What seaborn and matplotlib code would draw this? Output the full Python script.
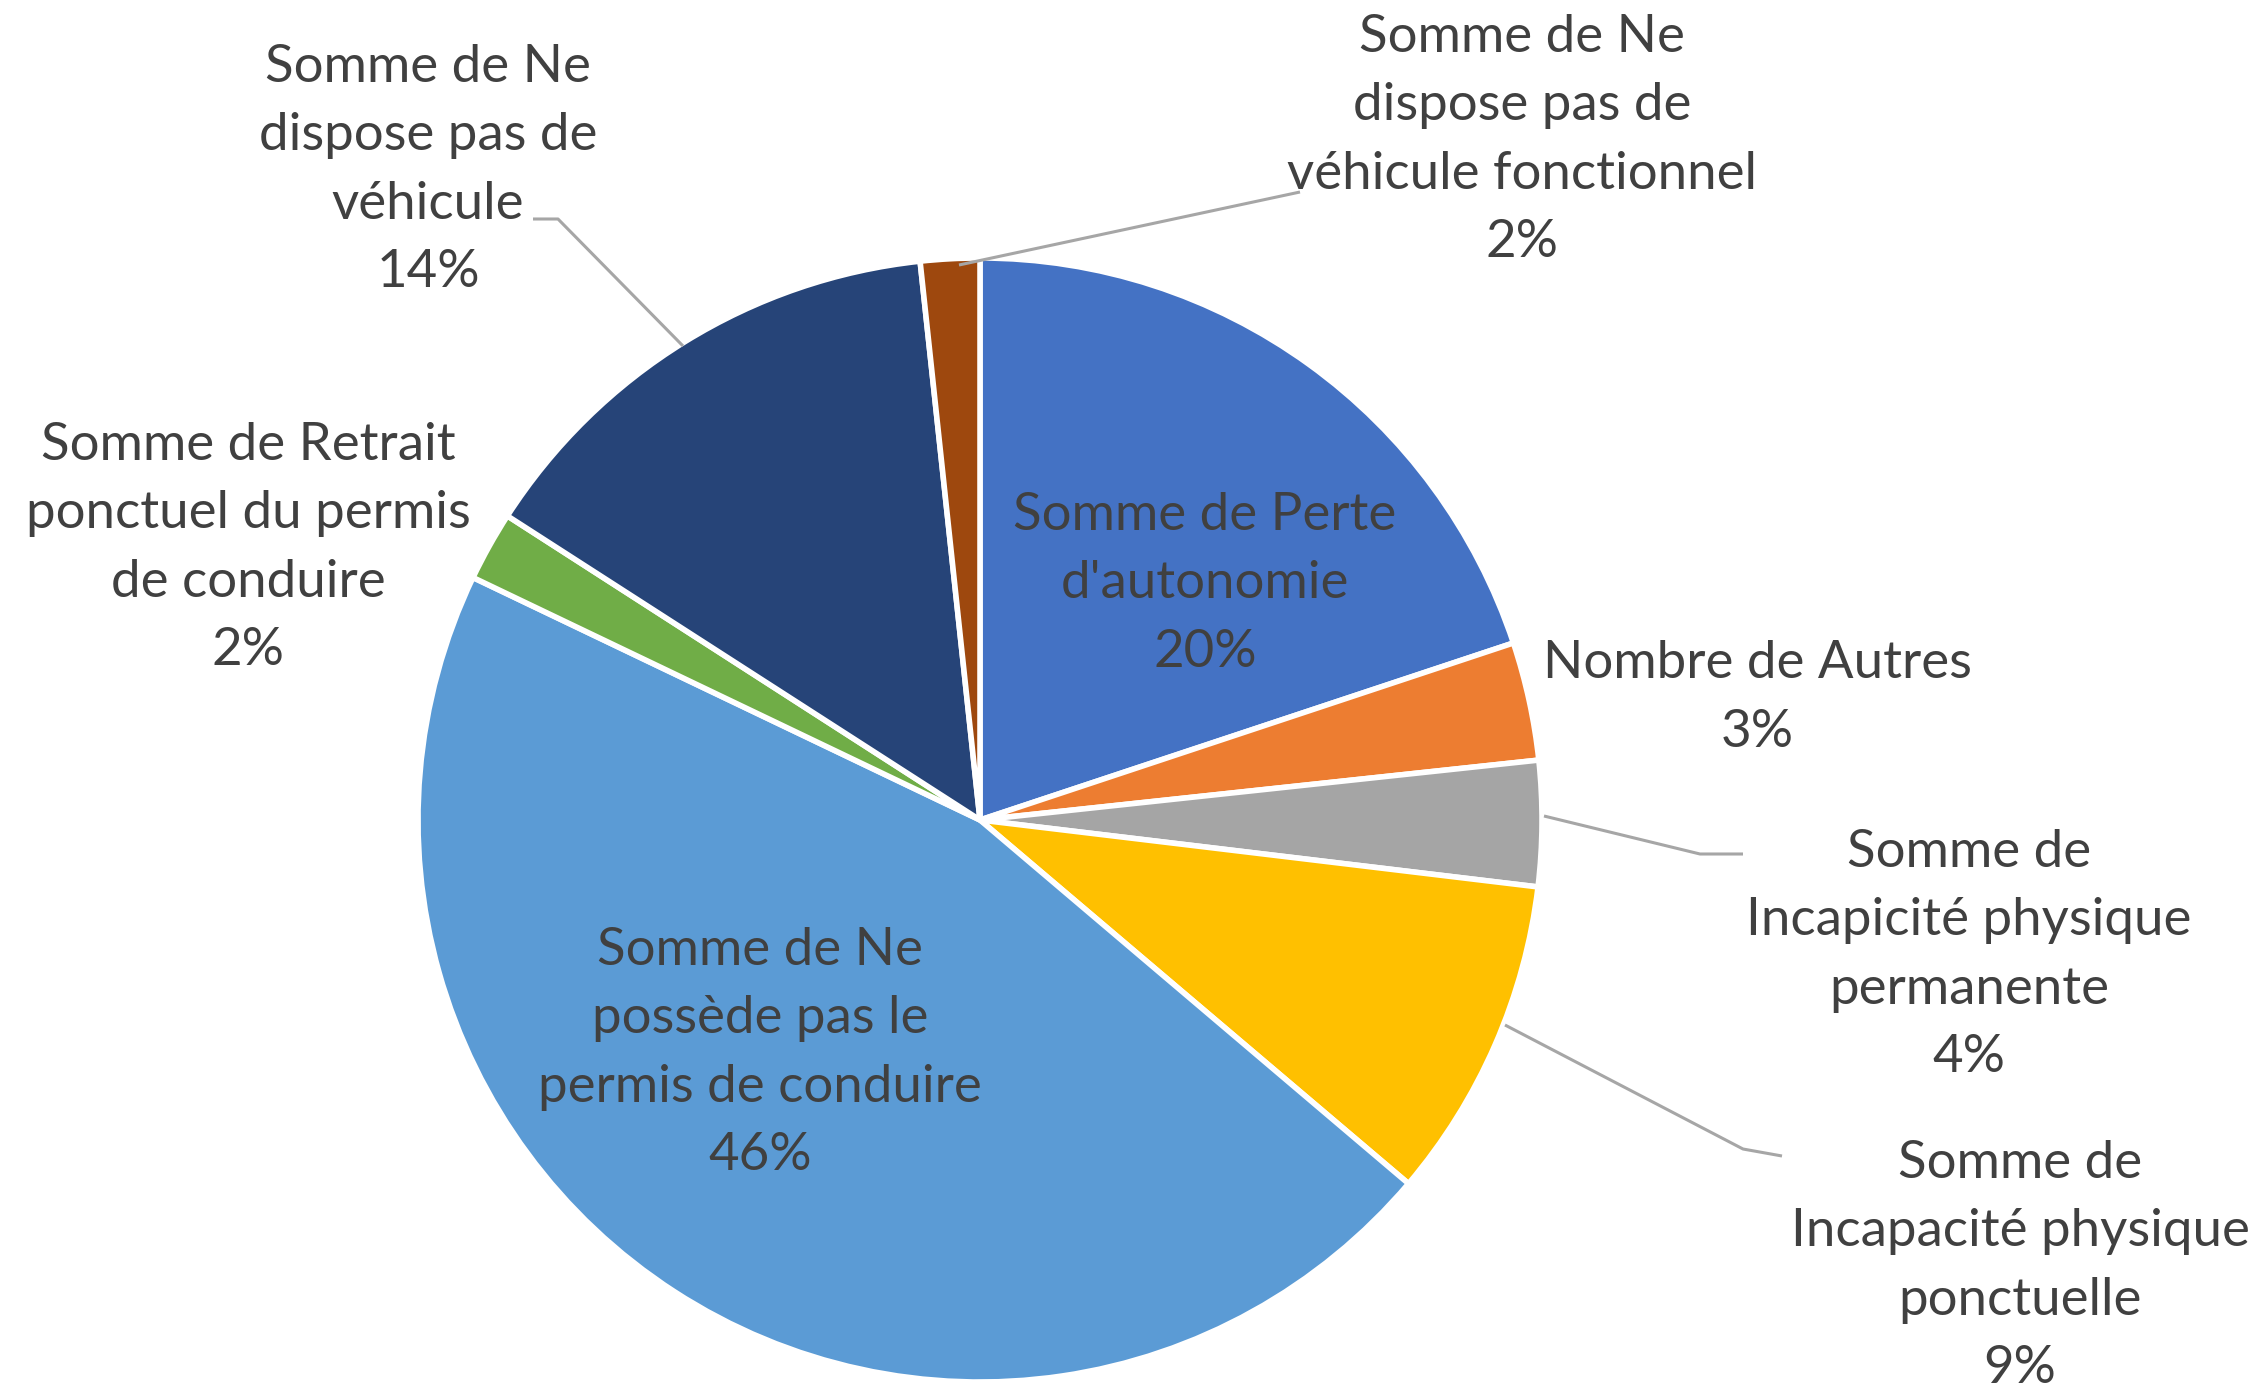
import matplotlib
matplotlib.use("Agg")
import matplotlib.pyplot as plt
import seaborn as sns

# ---- data ----
categories = [
    "Somme de Perte\nd'autonomie",
    "Nombre de Autres",
    "Somme de\nIncapicité physique\npermanente",
    "Somme de\nIncapacité physique\nponctuelle",
    "Somme de Ne\npossède pas le\npermis de conduire",
    "Somme de Retrait\nponctuel du permis\nde conduire",
    "Somme de Ne\ndispose pas de\nvéhicule",
    "Somme de Ne\ndispose pas de\nvéhicule fonctionnel",
]
values = [19.9, 3.4, 3.6, 9.3, 45.9, 2.0, 14.2, 1.7]
colors = ["#4472C4", "#ED7D31", "#A5A5A5", "#FFC000",
          "#5B9BD5", "#70AD47", "#264478", "#9E480E"]

sns.set_theme(style="white")
plt.rcParams['font.family'] = ['Lato', 'DejaVu Sans']

W, H = 2262, 1394
fig = plt.figure(figsize=(W / 100, H / 100), dpi=100)
ax = fig.add_axes([0, 0, 1, 1])

cx, cy, R = 980, 820, 562
ax.pie(values, colors=sns.color_palette(colors), startangle=90, counterclock=False,
       center=(cx, H - cy), radius=R, frame=True,
       wedgeprops=dict(edgecolor="white", linewidth=4))
ax.set_xlim(0, W)
ax.set_ylim(0, H)
ax.axis("off")

total = sum(values)
pcts = [f"{round(v / total * 100):.0f}%" for v in values]

# label layout (pixel positions of text block centers, top-left origin)
label_pos = [(1205, 584), (1757, 698), (1969, 955), (2020, 1266),
             (760, 1053), (248, 548), (428, 170), (1522, 140)]
txt_color = "#404040"
for cat, p, (x, y) in zip(categories, pcts, label_pos):
    ax.text(x, H - y, cat + "\n" + p, ha="center", va="center", fontsize=38,
            color=txt_color, linespacing=1.57)

# leader lines (pixel coords)
lead = [
    [(959, 265), (1300, 192)],
    [(683, 346), (558, 219), (533, 219)],
    [(1544, 816), (1700, 854), (1743, 854)],
    [(1505, 1025), (1743, 1149), (1782, 1156)],
]
for pts in lead:
    xs = [p[0] for p in pts]
    ys = [H - p[1] for p in pts]
    ax.plot(xs, ys, color="#A6A6A6", linewidth=2.2, solid_capstyle="butt")

fig.savefig("out.png", dpi=100, facecolor="white")
